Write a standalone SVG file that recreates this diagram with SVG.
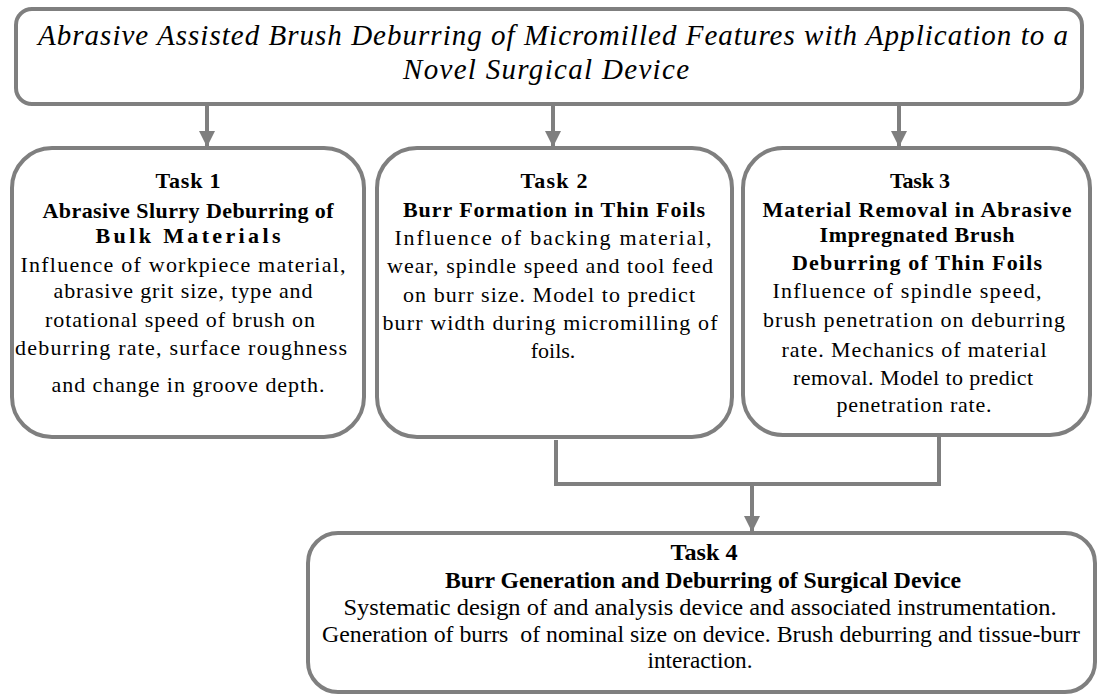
<svg xmlns="http://www.w3.org/2000/svg" width="1099" height="696" viewBox="0 0 1099 696">
<style>
.box{fill:#fff;stroke:#7f7f7f;stroke-width:4}
.conn{fill:none;stroke:#7f7f7f;stroke-width:4}
.t{font-family:"Liberation Serif","Times New Roman",serif;font-size:22px;fill:#000;text-anchor:middle}
.b{font-weight:bold}
.ti{font-style:italic;font-size:29px}
.c{font-size:24px}
</style>
<defs>
<marker id="ah" markerUnits="userSpaceOnUse" markerWidth="16" markerHeight="16" refX="16" refY="8" orient="auto">
<path d="M0,0 L16,8 L0,16 Z" fill="#7f7f7f"/>
</marker>
</defs>
<g id="title">
<rect class="box" x="16" y="9" width="1066" height="95" rx="16"/>
<text class="t ti" x="553" y="45" textLength="1030">Abrasive Assisted Brush Deburring of Micromilled Features with Application to a</text>
<text class="t ti" x="546" y="79" textLength="286">Novel Surgical Device</text>
</g>
<g id="task1">
<rect class="box" x="12" y="148" width="352" height="289" rx="40"/>
<text class="t b" x="188" y="188" textLength="65">Task 1</text>
<text class="t b" x="188" y="218" textLength="291">Abrasive Slurry Deburring of</text>
<text class="t b" x="188" y="243" textLength="185">Bulk Materials</text>
<text class="t" x="183" y="272" textLength="325">Influence of workpiece material,</text>
<text class="t" x="183" y="298" textLength="259">abrasive grit size, type and</text>
<text class="t" x="180" y="327" textLength="270">rotational speed of brush on</text>
<text class="t" x="181" y="355" textLength="332">deburring rate, surface roughness</text>
<text class="t" x="188" y="392" textLength="273">and change in groove depth.</text>
</g>
<g id="task2">
<rect class="box" x="377" y="148" width="355" height="289" rx="40"/>
<text class="t b" x="554" y="188" textLength="67">Task 2</text>
<text class="t b" x="554" y="217" textLength="302">Burr Formation in Thin Foils</text>
<text class="t" x="553" y="245" textLength="317">Influence of backing material,</text>
<text class="t" x="550" y="273" textLength="326">wear, spindle speed and tool feed</text>
<text class="t" x="549" y="302" textLength="292">on burr size. Model to predict</text>
<text class="t" x="550" y="330" textLength="335">burr width during micromilling of</text>
<text class="t" x="553" y="358">foils.</text>
</g>
<g id="task3">
<rect class="box" x="743" y="148" width="347" height="287" rx="40"/>
<text class="t b" x="920" y="188" textLength="60">Task 3</text>
<text class="t b" x="917" y="217" textLength="309">Material Removal in Abrasive</text>
<text class="t b" x="917" y="242" textLength="195">Impregnated Brush</text>
<text class="t b" x="917" y="270" textLength="250">Deburring of Thin Foils</text>
<text class="t" x="907" y="298" textLength="269">Influence of spindle speed,</text>
<text class="t" x="914" y="327" textLength="302">brush penetration on deburring</text>
<text class="t" x="914" y="357" textLength="265">rate. Mechanics of material</text>
<text class="t" x="913" y="385" textLength="240">removal. Model to predict</text>
<text class="t" x="914" y="412" textLength="155">penetration rate.</text>
</g>
<g id="task4">
<rect class="box" x="308" y="533" width="787" height="159" rx="30"/>
<text class="t b c" x="704" y="560" textLength="67" lengthAdjust="spacingAndGlyphs">Task 4</text>
<text class="t b c" x="703" y="588" textLength="516" lengthAdjust="spacingAndGlyphs">Burr Generation and Deburring of Surgical Device</text>
<text class="t c" x="700" y="615" textLength="713" lengthAdjust="spacingAndGlyphs">Systematic design of and analysis device and associated instrumentation.</text>
<text class="t c" x="701" y="642" textLength="758" lengthAdjust="spacingAndGlyphs">Generation of burrs&#160; of nominal size on device. Brush deburring and tissue-burr</text>
<text class="t c" x="700" y="668" textLength="105" lengthAdjust="spacingAndGlyphs">interaction.</text>
</g>
<g id="connectors">
<path class="conn" d="M207,104 V147" marker-end="url(#ah)"/>
<path class="conn" d="M553,104 V147" marker-end="url(#ah)"/>
<path class="conn" d="M899,104 V147" marker-end="url(#ah)"/>
<path class="conn" d="M556,440 V484 H939 V437"/>
<path class="conn" d="M752,484 V532" marker-end="url(#ah)"/>
</g>
</svg>
